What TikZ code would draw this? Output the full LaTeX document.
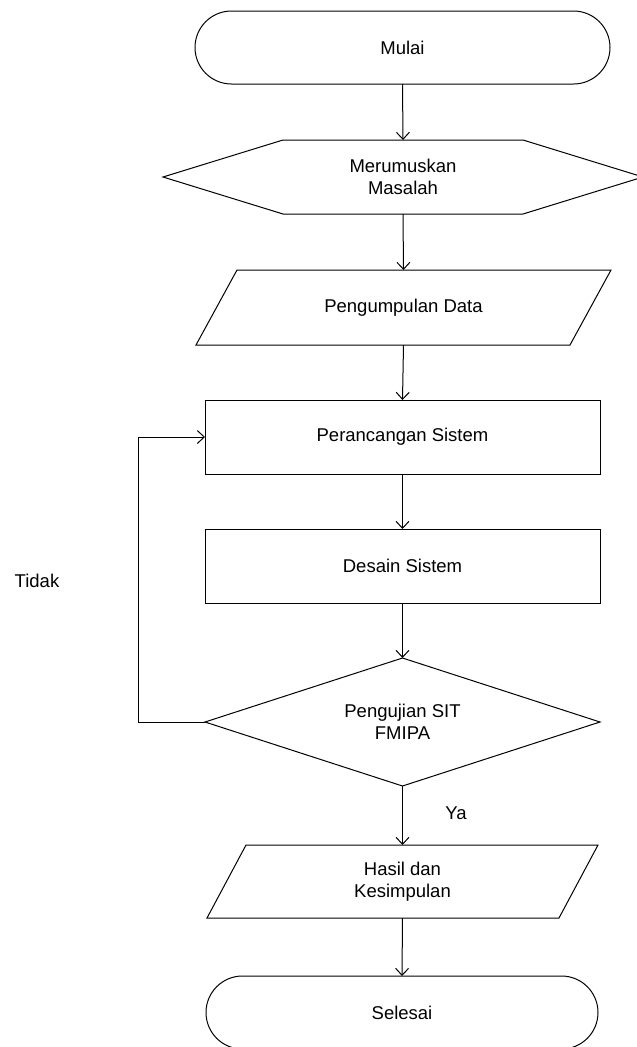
\documentclass[tikz,border=0pt]{standalone}
\usepackage{fontspec}
\setmainfont{Liberation Sans}
\usetikzlibrary{shapes.geometric,shapes.misc,arrows.meta}
\tikzset{
    base/.style={font=\fontsize{18.5}{22}\selectfont, align=center, inner sep=0pt, outer sep=0pt, line width=1pt},
    terminal/.style={base, draw, rounded rectangle, minimum height=73pt},
    process/.style={base, draw, rectangle, minimum width=395pt, minimum height=74pt},
    prep/.style={base, minimum width=480pt, minimum height=74pt},
    datain/.style={base},
    decision/.style={base, draw, diamond, aspect=3.1, minimum width=395pt, minimum height=128pt},
    outline/.style={line width=1pt, line join=miter},
    flow/.style={line width=1pt, -{Straight Barb[length=7pt, width=13pt]}},
    label/.style={font=\fontsize{18.5}{22}\selectfont},
}
\begin{document}
\begin{tikzpicture}[x=1pt, y=-1pt]
    \useasboundingbox (0,0) rectangle (637,1047);

    % Start
    \node[terminal, minimum width=415pt] (mulai) at (402.5,47.5) {Mulai};

    % Problem
    \node[prep] (rumus) at (403,177) {Merumuskan\\Masalah};
    \draw[outline] (rumus.west) -- ([xshift=120pt]rumus.north west) -- ([xshift=-120pt]rumus.north east)
        -- (rumus.east) -- ([xshift=-120pt]rumus.south east) -- ([xshift=120pt]rumus.south west) -- cycle;

    % Data
    \node[datain, minimum width=415pt, minimum height=75pt] (data) at (403.5,307.5) {Pengumpulan Data};
    \draw[outline] ([xshift=41pt]data.north west) -- (data.north east)
        -- ([xshift=-41pt]data.south east) -- (data.south west) -- cycle;

    % System
    \node[process] (rancang) at (402.5,437) {Perancangan Sistem};
    \node[process] (desain) at (402.5,566) {Desain Sistem};

    % Test
    \node[decision] (uji) at (402.5,722) {Pengujian SIT\\FMIPA};

    % Result
    \node[datain, minimum width=391pt, minimum height=73pt] (hasil) at (402.5,881.5) {Hasil dan\\Kesimpulan};
    \draw[outline] ([xshift=39pt]hasil.north west) -- (hasil.north east)
        -- ([xshift=-39pt]hasil.south east) -- (hasil.south west) -- cycle;

    % End
    \node[terminal, minimum width=392pt] (selesai) at (402,1012.5) {Selesai};

    % Labels
    \node[label] (tidak) at (37,581) {Tidak};
    \node[label] (ya) at (456,813) {Ya};

    % Flow
    \draw[flow] (mulai.south) -- (rumus.north);
    \draw[flow] (rumus.south) -- (data.north);
    \draw[flow] (data.south) -- (rancang.north);
    \draw[flow] (rancang.south) -- (desain.north);
    \draw[flow] (desain.south) -- (uji.north);
    \draw[flow] (uji.south) -- (hasil.north);
    \draw[flow] (hasil.south) -- (selesai.north);
    \draw[flow] (uji.west) -- ++(-67,0) |- (rancang.west);
\end{tikzpicture}
\end{document}
